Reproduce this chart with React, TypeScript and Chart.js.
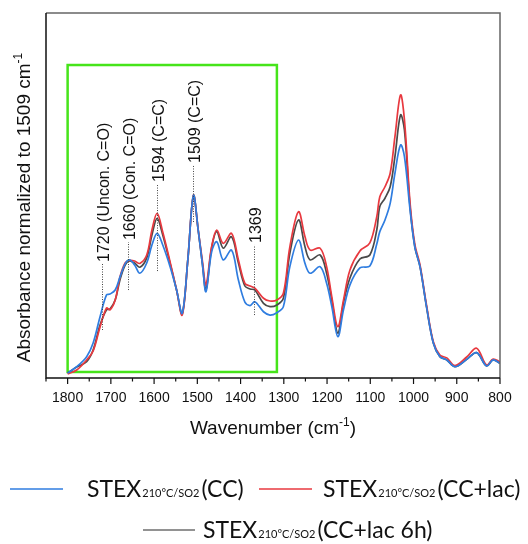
import { useEffect, useRef } from "react";
import { Chart, registerables } from "chart.js";

Chart.register(...registerables);

// Wavenumber grid (cm-1) shared by all three spectra
const wavenumbers = [
  1800, 1779, 1756, 1741, 1725, 1710, 1702, 1690, 1679, 1667, 1657, 1645, 1633, 1617, 1605, 1593,
  1580, 1563, 1548, 1535, 1522, 1509, 1498, 1488, 1480, 1467, 1455, 1440, 1421, 1405, 1390, 1378,
  1367, 1347, 1332, 1316, 1301, 1286, 1266, 1251, 1239, 1216, 1201, 1189, 1175, 1162, 1147, 1124,
  1101, 1085, 1078, 1066, 1054, 1043, 1030, 1021, 1008, 997, 985, 970, 954, 939, 923, 904, 877,
  854, 831, 816, 800,
];

// Absorbance normalized to the 1509 cm-1 band
const ccValues = [
  0.027, 0.062, 0.117, 0.192, 0.336, 0.455, 0.46, 0.482, 0.553, 0.625, 0.647, 0.619, 0.574, 0.63, 0.729, 0.793,
  0.729, 0.61, 0.482, 0.355, 0.647, 1.0, 0.811, 0.619, 0.473, 0.69, 0.747, 0.647, 0.701, 0.537, 0.416, 0.397,
  0.418, 0.363, 0.345, 0.358, 0.391, 0.61, 0.756, 0.628, 0.574, 0.61, 0.519, 0.391, 0.226, 0.373, 0.51, 0.603,
  0.614, 0.734, 0.802, 0.866, 0.957, 1.122, 1.277, 1.213, 0.921, 0.719, 0.61, 0.391, 0.19, 0.117, 0.099, 0.062, 0.102,
  0.139, 0.066, 0.099, 0.081,
];

const ccLacValues = [
  0.022, 0.044, 0.099, 0.148, 0.279, 0.384, 0.373, 0.427, 0.553, 0.63, 0.644, 0.641, 0.628, 0.674, 0.811, 0.902,
  0.8, 0.636, 0.482, 0.345, 0.647, 1.0, 0.811, 0.636, 0.51, 0.719, 0.811, 0.738, 0.793, 0.647, 0.519, 0.504,
  0.492, 0.437, 0.422, 0.427, 0.464, 0.719, 0.911, 0.774, 0.701, 0.711, 0.61, 0.445, 0.281, 0.427, 0.592, 0.696,
  0.74, 0.884, 0.993, 1.048, 1.122, 1.322, 1.551, 1.414, 0.959, 0.734, 0.619, 0.4, 0.197, 0.126, 0.11, 0.068, 0.115,
  0.163, 0.071, 0.104, 0.088,
];

const ccLac6hValues = [
  0.027, 0.06, 0.089, 0.153, 0.29, 0.373, 0.378, 0.427, 0.537, 0.619, 0.641, 0.63, 0.607, 0.658, 0.784, 0.875,
  0.784, 0.628, 0.482, 0.351, 0.647, 1.0, 0.811, 0.619, 0.482, 0.712, 0.802, 0.711, 0.774, 0.63, 0.504, 0.488,
  0.482, 0.409, 0.391, 0.4, 0.437, 0.683, 0.866, 0.719, 0.647, 0.674, 0.574, 0.427, 0.245, 0.411, 0.548, 0.652,
  0.674, 0.811, 0.939, 0.985, 1.048, 1.213, 1.441, 1.359, 0.937, 0.719, 0.61, 0.391, 0.19, 0.117, 0.099, 0.062, 0.102,
  0.139, 0.066, 0.099, 0.081,
];

const tickLabels = [1800, 1700, 1600, 1500, 1400, 1300, 1200, 1100, 1000, 900, 800];

// Assigned bands: position, text, and the dotted guide's lower/upper absorbance
const bandPositions = [1720, 1660, 1594, 1509, 1369];
const bandNames = ["1720 (Uncon. C=O)", "1660 (Con. C=O)", "1594 (C=C)", "1509 (C=C)", "1369"];
const bandGuideFrom = [0.263, 0.482, 0.586, 0.855, 0.345];
const bandGuideTo = [0.625, 0.745, 1.063, 1.167, 0.729];

// Highlighted lignin region
const regionFrom = 1800;
const regionTo = 1316;
const regionLow = 0.033;
const regionHigh = 1.715;

const BLUE = "#2f7de0";
const RED = "#e8393f";
const GRAY = "#4a4a4a";
const GREEN = "#46e41a";
const AXIS_FONT = "'Liberation Sans', Arial, sans-serif";
const LEGEND_FONT = "Lato, 'Open Sans', sans-serif";

function drawWithSuperscript(
  ctx: CanvasRenderingContext2D,
  main: string,
  sup: string,
  tail: string,
  cx: number,
  baseline: number,
  size: number
) {
  const mainFont = `${size}px ${AXIS_FONT}`;
  const supFont = `${Math.round(size * 0.62)}px ${AXIS_FONT}`;
  ctx.font = mainFont;
  const wMain = ctx.measureText(main).width;
  const wTail = ctx.measureText(tail).width;
  ctx.font = supFont;
  const wSup = ctx.measureText(sup).width;
  const total = wMain + wSup + wTail;
  let x = cx - total / 2;
  ctx.textAlign = "left";
  ctx.textBaseline = "alphabetic";
  ctx.font = mainFont;
  ctx.fillText(main, x, baseline);
  x += wMain;
  ctx.font = supFont;
  ctx.fillText(sup, x, baseline - size * 0.42);
  x += wSup;
  ctx.font = mainFont;
  ctx.fillText(tail, x, baseline);
}

function drawLegendEntry(
  ctx: CanvasRenderingContext2D,
  color: string,
  lineX0: number,
  lineX1: number,
  lineY: number,
  textX: number,
  tail: string
) {
  ctx.save();
  ctx.strokeStyle = color;
  ctx.lineWidth = 1.6;
  ctx.beginPath();
  ctx.moveTo(lineX0, lineY);
  ctx.lineTo(lineX1, lineY);
  ctx.stroke();
  const baseline = lineY + 8;
  ctx.fillStyle = "#111";
  ctx.textAlign = "left";
  ctx.textBaseline = "alphabetic";
  let x = textX;
  ctx.font = `23px ${LEGEND_FONT}`;
  ctx.fillText("STEX", x, baseline);
  x += ctx.measureText("STEX").width + 1;
  ctx.font = `11px ${LEGEND_FONT}`;
  ctx.fillText("210°C/SO2", x, baseline);
  x += ctx.measureText("210°C/SO2").width + 2;
  ctx.font = `23px ${LEGEND_FONT}`;
  ctx.fillText(tail, x, baseline);
  ctx.restore();
}

const decorations = {
  id: "decorations",
  beforeDatasetsDraw(chart: any) {
    const { ctx } = chart;
    const { x, y } = chart.scales;
    const l = x.getPixelForValue(regionFrom);
    const r = x.getPixelForValue(regionTo);
    const t = y.getPixelForValue(regionHigh);
    const b = y.getPixelForValue(regionLow);
    ctx.save();
    ctx.strokeStyle = GREEN;
    ctx.lineWidth = 2.5;
    ctx.strokeRect(l, t, r - l, b - t);
    ctx.restore();
  },
  afterDatasetsDraw(chart: any) {
    const { ctx, chartArea } = chart;
    const { x, y } = chart.scales;
    ctx.save();

    // band guides and names
    bandPositions.forEach((wn, i) => {
      const px = Math.round(x.getPixelForValue(wn)) + 0.5;
      const y0 = y.getPixelForValue(bandGuideFrom[i]);
      const y1 = y.getPixelForValue(bandGuideTo[i]);
      ctx.save();
      ctx.strokeStyle = "#444";
      ctx.lineWidth = 1;
      ctx.setLineDash([1, 1.5]);
      ctx.beginPath();
      ctx.moveTo(px, y0);
      ctx.lineTo(px, y1);
      ctx.stroke();
      ctx.restore();
      ctx.save();
      ctx.translate(px + 2, y1 - 2);
      ctx.rotate(-Math.PI / 2);
      ctx.font = `16px ${AXIS_FONT}`;
      ctx.fillStyle = "#111";
      ctx.textAlign = "left";
      ctx.textBaseline = "middle";
      ctx.fillText(bandNames[i], 0, 0);
      ctx.restore();
    });

    // frame: dark axes on left/bottom, grey box on top/right
    const { left, right, top, bottom } = chartArea;
    ctx.lineWidth = 1.5;
    ctx.strokeStyle = "#666";
    ctx.beginPath();
    ctx.moveTo(left, top);
    ctx.lineTo(right, top);
    ctx.lineTo(right, bottom);
    ctx.stroke();
    ctx.strokeStyle = "#111";
    ctx.beginPath();
    ctx.moveTo(left, top);
    ctx.lineTo(left, bottom);
    ctx.lineTo(right, bottom);
    ctx.stroke();

    // major ticks every 100, minor every 50
    ctx.lineWidth = 1.2;
    for (let wn = 800; wn <= 1850; wn += 50) {
      const px = x.getPixelForValue(wn);
      const len = wn % 100 === 0 ? 6 : 3.5;
      ctx.beginPath();
      ctx.moveTo(px, bottom);
      ctx.lineTo(px, bottom + len);
      ctx.stroke();
    }

    // axis titles
    ctx.fillStyle = "#111";
    drawWithSuperscript(ctx, "Wavenumber (cm", "-1", ")", (left + right) / 2 + 0, 434, 19);
    ctx.save();
    ctx.translate(30, (top + bottom) / 2 + 12);
    ctx.rotate(-Math.PI / 2);
    drawWithSuperscript(ctx, "Absorbance normalized to 1509 cm", "-1", "", 0, 0, 19);
    ctx.restore();

    // legend
    drawLegendEntry(ctx, BLUE, 10, 63, 489, 87, "(CC)");
    drawLegendEntry(ctx, RED, 259, 312, 489, 323, "(CC+lac)");
    drawLegendEntry(ctx, "#6e6e6e", 143, 195, 530, 203, "(CC+lac 6h)");

    ctx.restore();
  },
};

function toPoints(values: number[]) {
  return wavenumbers.map((wn, i) => ({ x: wn, y: values[i] }));
}

export default function App() {
  const canvasRef = useRef<HTMLCanvasElement | null>(null);

  useEffect(() => {
    let chart: Chart | null = null;
    let cancelled = false;
    const build = () => {
      if (cancelled || !canvasRef.current) return;
      const line = (label: string, values: number[], color: string) => ({
        label,
        data: toPoints(values),
        borderColor: color,
        backgroundColor: color,
        borderWidth: 1.7,
        pointRadius: 0,
        tension: 0.35,
        fill: false,
      });
      chart = new Chart(canvasRef.current, {
        type: "line",
        data: {
          datasets: [
            line("STEX210°C/SO2 (CC)", ccValues, BLUE),
            line("STEX210°C/SO2 (CC+lac)", ccLacValues, RED),
            line("STEX210°C/SO2 (CC+lac 6h)", ccLac6hValues, GRAY),
          ],
        },
        options: {
          animation: false,
          responsive: false,
          devicePixelRatio: 1,
          layout: { padding: { left: 46, right: 28, top: 13, bottom: 0 } },
          plugins: { legend: { display: false }, tooltip: { enabled: false } },
          scales: {
            x: {
              type: "linear",
              reverse: true,
              min: 800,
              max: 1850,
              grid: { display: false, drawTicks: false },
              border: { display: false },
              afterBuildTicks: (scale: any) => {
                scale.ticks = tickLabels.map((v) => ({ value: v }));
              },
              afterFit: (scale: any) => {
                scale.height = 166;
              },
              ticks: {
                autoSkip: false,
                maxRotation: 0,
                padding: 12,
                color: "#111",
                font: { family: AXIS_FONT, size: 14 },
                callback: (v: any) => String(v),
              },
            },
            y: {
              display: false,
              min: 0,
              max: 2,
            },
          },
        },
        plugins: [decorations],
      });
    };
    const fontsReady = (document as any).fonts
      ? Promise.all([
          (document as any).fonts.load(`23px Lato`),
          (document as any).fonts.load(`16px 'Liberation Sans'`),
        ]).catch(() => undefined)
      : Promise.resolve();
    fontsReady.then(build);
    return () => {
      cancelled = true;
      if (chart) chart.destroy();
    };
  }, []);

  return (
    <div style={{ position: "fixed", left: 0, top: 0, width: 528, height: 544, background: "#fff" }}>
      <canvas ref={canvasRef} width={528} height={544} />
    </div>
  );
}
